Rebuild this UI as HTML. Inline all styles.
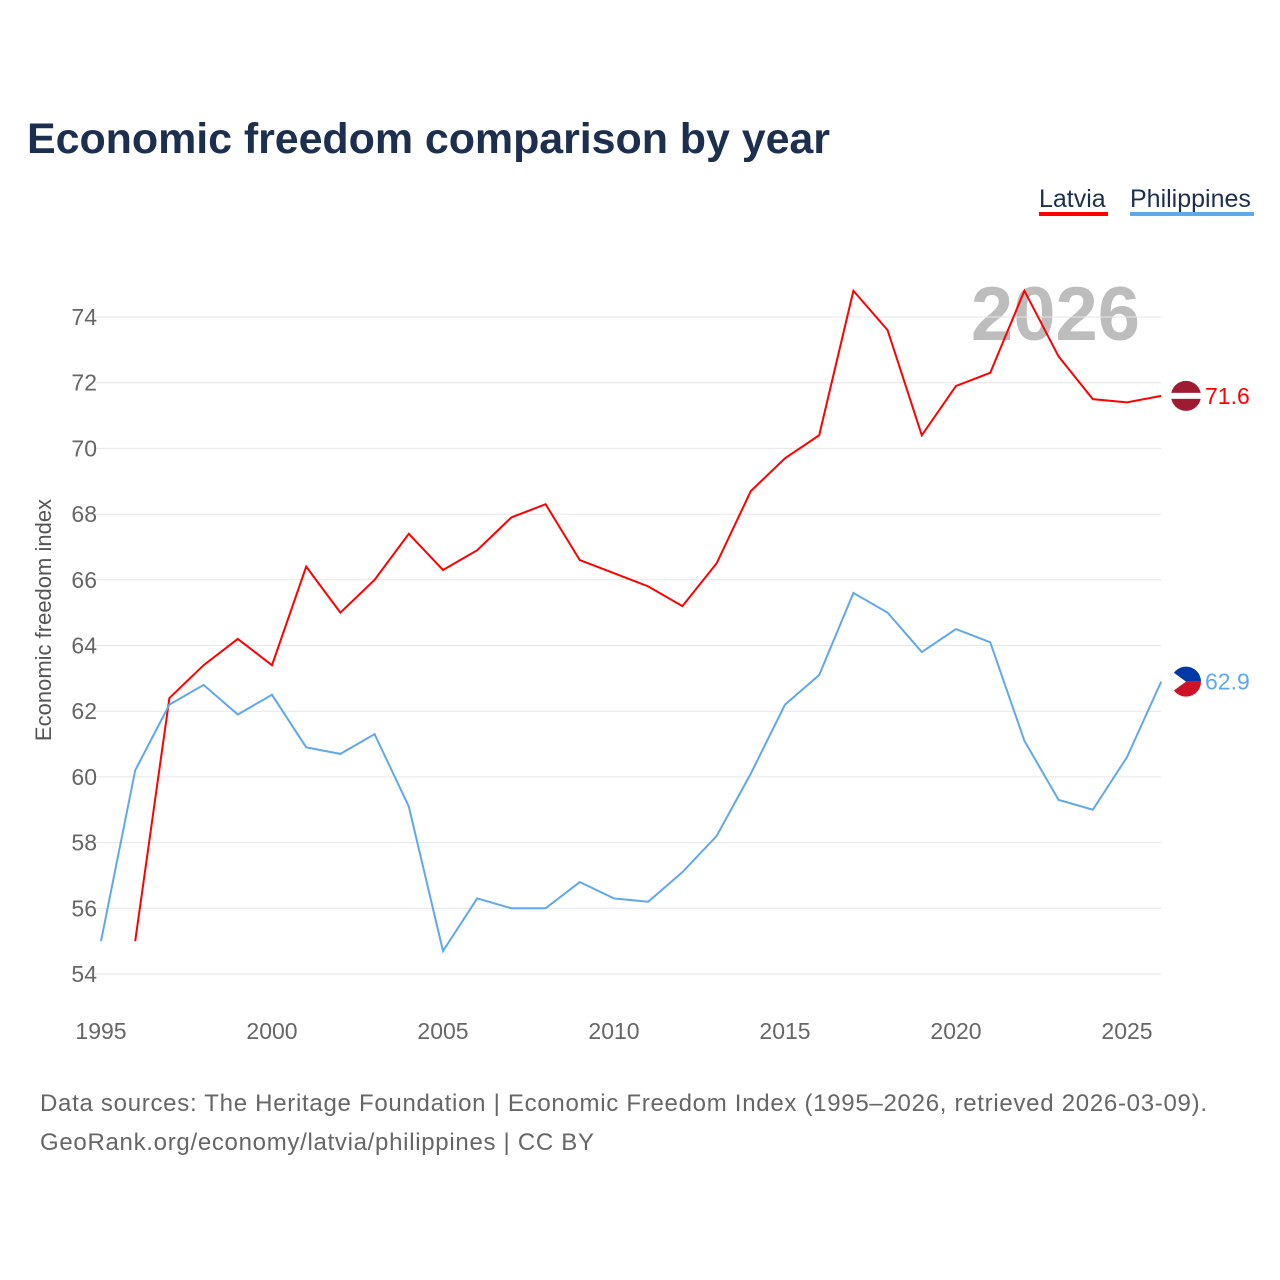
<!DOCTYPE html>
<html><head><meta charset="utf-8">
<style>
body{margin:0;background:#fff;font-family:"Liberation Sans",sans-serif;}
#wrap{position:relative;width:1280px;height:1280px;overflow:hidden;}
</style></head>
<body>
<div id="wrap">
<svg id="chart" width="1280" height="1280">
<text x="27" y="153" font-size="43" font-weight="bold" fill="#1c2f4f" textLength="803">Economic freedom comparison by year</text>
<g>
<text x="1039" y="207" font-size="25" fill="#1c2f4f">Latvia</text>
<rect x="1039" y="212" width="69" height="4" fill="#ff0000"/>
</g>
<g>
<text x="1130" y="207" font-size="25" fill="#1c2f4f">Philippines</text>
<rect x="1130" y="212" width="124" height="4" fill="#5fa8ec"/>
</g>
<text x="1140" y="340" font-size="76" font-weight="bold" fill="#bdbdbd" text-anchor="end">2026</text>
<text transform="translate(51,620) rotate(-90)" font-size="22" fill="#555" text-anchor="middle">Economic freedom index</text>
<g id="grid"></g><g id="lines"></g>
<text x="40" y="1111" font-size="24" fill="#666" textLength="1167">Data sources: The Heritage Foundation | Economic Freedom Index (1995–2026, retrieved 2026-03-09).</text>
<text x="40" y="1150" font-size="24" fill="#666" textLength="554">GeoRank.org/economy/latvia/philippines | CC BY</text>
</svg>
</div>
<script>
const years=[1995,1996,1997,1998,1999,2000,2001,2002,2003,2004,2005,2006,2007,2008,2009,2010,2011,2012,2013,2014,2015,2016,2017,2018,2019,2020,2021,2022,2023,2024,2025,2026];
const latvia=[null,55.0,62.4,63.4,64.2,63.4,66.4,65.0,66.0,67.4,66.3,66.9,67.9,68.3,66.6,66.2,65.8,65.2,66.5,68.7,69.7,70.4,74.8,73.6,70.4,71.9,72.3,74.8,72.8,71.5,71.4,71.6];
const philippines=[55.0,60.2,62.2,62.8,61.9,62.5,60.9,60.7,61.3,59.1,54.7,56.3,56.0,56.0,56.8,56.3,56.2,57.1,58.2,60.1,62.2,63.1,65.6,65.0,63.8,64.5,64.1,61.1,59.3,59.0,60.6,62.9];
const yTicks=[54,56,58,60,62,64,66,68,70,72,74];
const xTicks=[1995,2000,2005,2010,2015,2020,2025];
const NS="http://www.w3.org/2000/svg";
function xs(v){return 101+(v-1995)*(1127-101)/30;}
function ys(v){return 974-(v-54)*(974-317)/20;}
function mk(t,a,p){const e=document.createElementNS(NS,t);for(const k in a)e.setAttribute(k,a[k]);p.appendChild(e);return e;}
const grid=document.getElementById('grid'),lines=document.getElementById('lines');
yTicks.forEach(v=>{
 const l=mk('line',{x1:95,x2:1161,y1:ys(v),y2:ys(v),stroke:'#e6e6e6','stroke-width':1},grid);
 
 
 const t=mk('text',{x:97,y:ys(v)+8,'font-size':23,fill:'#666','text-anchor':'end'},grid);
 t.textContent=v;
 
 
});
xTicks.forEach(v=>{
 const t=mk('text',{x:xs(v),y:1039,'font-size':23,fill:'#666','text-anchor':'middle'},grid);
 t.textContent=v;
 
 
});
function series(vals,color,name,flag){
 let d='';vals.forEach((v,i)=>{if(v==null)return;d+=(d?'L':'M')+xs(years[i])+','+ys(v);});
 const p=mk('path',{d:d,fill:'none',stroke:color,'stroke-width':2},lines);
 
 
 const last=vals[vals.length-1],y=ys(last);
 const g=mk('g',{},lines);
 
 
 if(flag==='lv'){
  mk('circle',{cx:1186,cy:y,r:15,fill:'#9e1b32'},g);
  mk('rect',{x:1171,y:y-3,width:30,height:6,fill:'#fff'},g);
 }else{
  mk('path',{d:`M1171,${y} A15,15 0 0 1 1201,${y} Z`,fill:'#0038a8'},g);
  mk('path',{d:`M1171,${y} A15,15 0 0 0 1201,${y} Z`,fill:'#ce1126'},g);
  mk('path',{d:`M1171,${y-11} L1186,${y} L1171,${y+11} Z`,fill:'#fff'},g);
 }
 const t=mk('text',{x:1205,y:y+8,'font-size':23,fill:color},lines);
 t.textContent=last.toFixed(1);
 
 
}
series(latvia,'#ff0000','latvia','lv');
series(philippines,'#5fa8ec','philippines','ph');
</script>
</body></html>
